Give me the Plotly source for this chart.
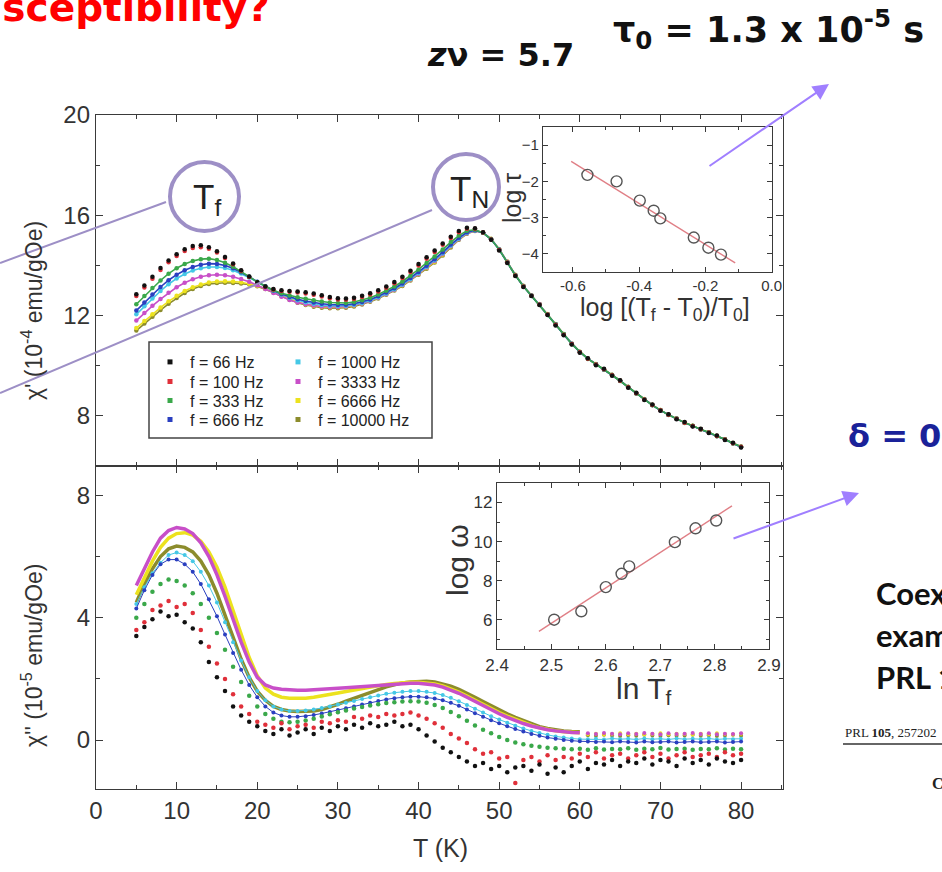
import plotly.graph_objects as go

W, H = 942, 872
def px(x): return x / W
def py(y): return 1 - y / H

# ---------------- data ----------------
T = list(range(5, 81))
freqs = ["66", "100", "333", "666", "1000", "3333", "6666", "10000"]
labels = ["f = 66 Hz", "f = 100 Hz", "f = 333 Hz", "f = 666 Hz",
          "f = 1000 Hz", "f = 3333 Hz", "f = 6666 Hz", "f = 10000 Hz"]
colors = ["#111111", "#e0303a", "#3aa84a", "#2a3fc0",
          "#45c8e6", "#c84fc8", "#ece21e", "#8c8c2c"]

chi1_66 = [12.85,13.20,13.55,13.90,14.20,14.45,14.65,14.77,14.80,14.73,
           14.57,14.34,14.08,13.81,13.56,13.33,13.16,13.06,13.01,12.98,
           12.96,12.93,12.88,12.81,12.74,12.69,12.68,12.71,12.79,12.89,
           13.01,13.16,13.34,13.55,13.79,14.06,14.33,14.60,14.87,15.14,
           15.37,15.50,15.48,15.32,15.02,14.60,14.10,13.58,13.14,12.78,
           12.42,12.02,11.60,11.22,10.85,10.52,10.30,10.02,9.88,9.60,
           9.42,9.12,8.92,8.63,8.45,8.20,8.06,7.86,7.75,7.58,
           7.49,7.32,7.22,7.04,6.93,6.74]
chi1_100 = [12.78,13.12,13.47,13.82,14.13,14.38,14.58,14.70,14.73,14.67,
            14.52,14.30,14.05,13.79,13.54,13.31,13.14,13.04,12.98,12.95,
            12.92,12.88,12.83,12.76,12.69,12.64,12.63,12.66,12.74,12.84,
            12.96,13.11,13.29,13.50,13.74,14.00,14.27,14.54,14.82,15.09,
            15.32,15.46,15.46,15.31,15.03,14.62,14.12,13.60,13.16,12.79,
            12.44,12.04,11.63,11.24,10.87,10.54,10.28,10.05,9.86,9.62,
            9.40,9.14,8.90,8.65,8.43,8.22,8.04,7.88,7.73,7.60,
            7.47,7.34,7.20,7.06,6.91,6.77]
chi1_333 = [12.45,12.78,13.10,13.40,13.67,13.89,14.06,14.18,14.25,14.27,
            14.22,14.11,13.95,13.76,13.55,13.34,13.16,13.01,12.89,12.80,
            12.73,12.67,12.61,12.56,12.52,12.50,12.50,12.54,12.61,12.71,
            12.84,12.99,13.16,13.36,13.59,13.84,14.10,14.36,14.64,14.93,
            15.19,15.38,15.42,15.30,15.04,14.63,14.13,13.61,13.17,12.79,
            12.43,12.05,11.64,11.26,10.86,10.55,10.27,10.06,9.85,9.63,
            9.39,9.15,8.89,8.66,8.42,8.23,8.03,7.89,7.72,7.61,
            7.46,7.35,7.19,7.07,6.90,6.78]
chi1_666 = [12.20,12.52,12.84,13.14,13.41,13.63,13.81,13.94,14.03,14.07,
            14.06,14.00,13.89,13.73,13.55,13.35,13.17,13.00,12.86,12.74,
            12.65,12.58,12.52,12.47,12.44,12.42,12.43,12.47,12.54,12.64,
            12.77,12.92,13.09,13.28,13.50,13.74,13.99,14.25,14.53,14.83,
            15.10,15.32,15.40,15.30,15.04,14.63,14.13,13.61,13.17,12.79,
            12.44,12.04,11.64,11.25,10.87,10.55,10.28,10.06,9.85,9.63,
            9.40,9.15,8.90,8.66,8.43,8.22,8.04,7.88,7.73,7.60,
            7.47,7.34,7.20,7.06,6.91,6.76]
chi1_1000 = [12.05,12.37,12.68,12.98,13.25,13.48,13.66,13.80,13.89,13.94,
             13.94,13.90,13.81,13.68,13.52,13.34,13.16,12.99,12.84,12.71,
             12.61,12.53,12.47,12.42,12.39,12.38,12.39,12.43,12.50,12.60,
             12.73,12.88,13.05,13.24,13.46,13.70,13.95,14.21,14.49,14.79,
             15.07,15.30,15.39,15.30,15.05,14.64,14.14,13.62,13.18,12.80,
             12.45,12.05,11.65,11.25,10.88,10.55,10.28,10.06,9.85,9.63,
             9.40,9.15,8.90,8.66,8.43,8.22,8.04,7.88,7.73,7.60,
             7.47,7.34,7.20,7.06,6.91,6.76]
chi1_3333 = [11.80,12.10,12.39,12.66,12.91,13.13,13.31,13.45,13.55,13.61,
             13.63,13.61,13.55,13.46,13.35,13.21,13.06,12.90,12.75,12.62,
             12.52,12.45,12.40,12.36,12.34,12.34,12.36,12.41,12.48,12.58,
             12.71,12.86,13.03,13.22,13.44,13.67,13.92,14.18,14.46,14.77,
             15.05,15.28,15.38,15.30,15.05,14.65,14.15,13.62,13.18,12.80,
             12.45,12.05,11.65,11.25,10.88,10.55,10.28,10.06,9.85,9.63,
             9.40,9.15,8.90,8.66,8.43,8.22,8.04,7.88,7.73,7.60,
             7.47,7.34,7.20,7.06,6.91,6.76]
chi1_6666 = [11.50,11.78,12.05,12.32,12.57,12.79,12.98,13.13,13.24,13.32,
             13.36,13.37,13.36,13.33,13.27,13.19,13.08,12.94,12.80,12.66,
             12.54,12.45,12.39,12.35,12.33,12.33,12.35,12.40,12.48,12.58,
             12.71,12.86,13.03,13.21,13.43,13.66,13.90,14.15,14.44,14.76,
             15.05,15.29,15.39,15.31,15.06,14.66,14.16,13.63,13.19,12.81,
             12.46,12.06,11.66,11.26,10.89,10.56,10.29,10.07,9.86,9.64,
             9.41,9.16,8.91,8.67,8.44,8.23,8.05,7.89,7.74,7.61,
             7.48,7.35,7.21,7.07,6.92,6.77]
chi1_10000 = [11.40,11.68,11.95,12.22,12.47,12.70,12.90,13.06,13.18,13.26,
              13.30,13.31,13.30,13.28,13.24,13.17,13.06,12.92,12.77,12.63,
              12.51,12.42,12.35,12.31,12.29,12.29,12.31,12.36,12.44,12.55,
              12.68,12.83,13.00,13.18,13.40,13.63,13.87,14.12,14.40,14.72,
              15.02,15.26,15.37,15.30,15.05,14.65,14.15,13.62,13.18,12.80,
              12.45,12.05,11.65,11.25,10.88,10.55,10.28,10.06,9.85,9.63,
              9.40,9.15,8.90,8.66,8.43,8.22,8.04,7.88,7.73,7.60,
              7.47,7.34,7.20,7.06,6.91,6.76]

chi2_66 = [3.40,3.70,3.95,4.20,4.05,4.10,3.85,3.65,3.20,2.55,
           2.05,1.60,1.10,0.80,0.60,0.45,0.30,0.20,0.35,0.15,
           0.25,0.35,0.20,0.40,0.30,0.45,0.35,0.50,0.40,0.55,
           0.45,0.50,0.60,0.45,0.50,0.35,0.15,-0.05,-0.25,-0.40,
           -0.55,-0.70,-0.85,-0.75,-0.95,-0.85,-1.05,-0.90,-0.85,-1.00,
           -0.80,-1.10,-0.90,-1.05,-0.85,-0.70,-0.95,-0.75,-0.80,-0.65,
           -0.85,-0.70,-0.75,-0.60,-0.80,-0.65,-0.70,-0.85,-0.60,-0.75,
           -0.65,-0.80,-0.60,-0.70,-0.75,-0.65]
chi2_100 = [3.60,3.85,4.25,4.40,4.55,4.35,4.45,4.15,3.60,3.05,
            2.50,2.00,1.50,1.10,0.85,0.60,0.50,0.40,0.55,0.35,
            0.45,0.50,0.40,0.60,0.55,0.65,0.60,0.75,0.70,0.80,
            0.75,0.85,0.80,0.85,0.90,0.80,0.70,0.55,0.40,0.20,
            0.05,-0.10,-0.30,-0.45,-0.40,-0.60,-0.55,-1.40,-0.65,-0.55,
            -0.70,-0.50,-0.65,-0.55,-0.60,-0.45,-0.55,-0.40,-0.60,-0.50,
            -0.45,-0.60,-0.50,-0.40,-0.55,-0.45,-0.60,-0.50,-0.40,-0.55,
            -0.50,-0.45,-0.55,-0.40,-0.50,-0.45]
chi2_333 = [4.00,4.45,4.85,5.10,5.25,5.20,5.05,4.80,4.45,4.00,
            3.50,2.95,2.40,1.90,1.45,1.10,0.85,0.70,0.60,0.58,
            0.60,0.64,0.70,0.77,0.84,0.91,0.97,1.03,1.08,1.13,
            1.17,1.21,1.24,1.26,1.27,1.26,1.22,1.15,1.05,0.92,
            0.78,0.63,0.48,0.34,0.22,0.10,0.00,-0.08,-0.14,-0.19,
            -0.22,-0.25,-0.27,-0.28,-0.30,-0.28,-0.32,-0.27,-0.31,-0.29,
            -0.30,-0.27,-0.32,-0.28,-0.30,-0.26,-0.31,-0.29,-0.28,-0.32,
            -0.29,-0.30,-0.27,-0.31,-0.28,-0.30]
chi2_666 = [4.30,4.90,5.40,5.75,5.90,5.90,5.75,5.50,5.10,4.60,
            4.05,3.45,2.85,2.30,1.80,1.40,1.10,0.90,0.80,0.76,
            0.76,0.78,0.82,0.87,0.92,0.98,1.04,1.10,1.16,1.22,
            1.28,1.33,1.37,1.40,1.42,1.42,1.40,1.36,1.30,1.22,
            1.12,1.00,0.88,0.76,0.65,0.55,0.45,0.36,0.28,0.20,
            0.14,0.08,0.04,0.00,-0.02,-0.04,-0.05,-0.06,-0.05,-0.07,
            -0.05,-0.06,-0.08,-0.05,-0.07,-0.06,-0.05,-0.08,-0.06,-0.05,
            -0.07,-0.06,-0.05,-0.08,-0.06,-0.05]
chi2_1000 = [4.45,5.00,5.45,5.80,6.05,6.13,6.05,5.85,5.50,5.05,
             4.50,3.85,3.20,2.60,2.05,1.60,1.30,1.10,1.00,0.95,
             0.95,0.97,1.00,1.05,1.10,1.16,1.22,1.28,1.34,1.40,
             1.46,1.51,1.55,1.58,1.60,1.60,1.58,1.54,1.47,1.38,
             1.27,1.15,1.02,0.90,0.78,0.67,0.57,0.47,0.38,0.30,
             0.23,0.17,0.12,0.08,0.05,0.03,0.03,0.04,0.02,0.05,
             0.03,0.04,0.02,0.05,0.03,0.04,0.02,0.05,0.03,0.04,
             0.03,0.05,0.02,0.04,0.03,0.04]
chi2_3333 = [5.05,5.60,6.15,6.60,6.85,6.95,6.90,6.75,6.45,6.00,
             5.40,4.70,3.95,3.20,2.55,2.05,1.80,1.70,1.66,1.64,
             1.63,1.63,1.64,1.65,1.67,1.69,1.71,1.73,1.75,1.77,
             1.79,1.81,1.83,1.85,1.86,1.86,1.84,1.80,1.73,1.64,
             1.53,1.40,1.26,1.12,0.99,0.86,0.74,0.63,0.54,0.46,
             0.39,0.34,0.30,0.27,0.25,0.24,0.22,0.20,0.23,0.21,
             0.19,0.22,0.20,0.23,0.21,0.19,0.22,0.20,0.21,0.23,
             0.20,0.22,0.19,0.21,0.20,0.22]
chi2_6666 = [4.75,5.30,5.85,6.30,6.60,6.75,6.78,6.70,6.50,6.15,
             5.65,5.00,4.25,3.45,2.70,2.10,1.70,1.50,1.40,1.37,
             1.36,1.37,1.40,1.44,1.49,1.54,1.59,1.64,1.69,1.74,
             1.78,1.82,1.85,1.88,1.89,1.89,1.87,1.83,1.77,1.68,
             1.57,1.44,1.30,1.16,1.02,0.90,0.78,0.67,0.57,0.48,
             0.40,0.34,0.30,0.27,0.25,0.24,0.19,0.21,0.18,0.20,
             0.22,0.19,0.21,0.18,0.20,0.22,0.19,0.21,0.20,0.18,
             0.21,0.19,0.22,0.20,0.18,0.21]
chi2_10000 = [4.50,5.10,5.60,6.00,6.25,6.34,6.30,6.15,5.85,5.40,
              4.80,4.10,3.35,2.65,2.05,1.60,1.30,1.10,1.00,0.95,
              0.93,0.93,0.95,1.00,1.08,1.17,1.27,1.37,1.47,1.57,
              1.66,1.74,1.81,1.87,1.90,1.92,1.92,1.90,1.84,1.76,
              1.66,1.54,1.40,1.26,1.12,0.99,0.86,0.74,0.63,0.53,
              0.44,0.38,0.33,0.30,0.28,0.27,0.16,0.14,0.17,0.15,
              0.13,0.16,0.14,0.17,0.15,0.13,0.16,0.14,0.15,0.17,
              0.14,0.16,0.13,0.15,0.17,0.14]

chi1 = [chi1_66, chi1_100, chi1_333, chi1_666, chi1_1000, chi1_3333, chi1_6666, chi1_10000]
chi2 = [chi2_66, chi2_100, chi2_333, chi2_666, chi2_1000, chi2_3333, chi2_6666, chi2_10000]

# insets
tau_x = [-0.556, -0.468, -0.398, -0.356, -0.336, -0.235, -0.191, -0.153]
tau_y = [-1.82, -2.00, -2.53, -2.81, -3.02, -3.55, -3.83, -4.02]
tau_fit_x = [-0.605, -0.11]
tau_fit_y = [-1.45, -4.25]
om_x = [2.505, 2.555, 2.600, 2.629, 2.643, 2.727, 2.765, 2.803]
om_y = [6.00, 6.43, 7.67, 8.35, 8.73, 9.97, 10.68, 11.08]
om_fit_x = [2.477, 2.832]
om_fit_y = [5.40, 11.83]

FONT = "Liberation Sans, Arial, sans-serif"
AX = "#3a3a3a"

fig = go.Figure()

# upper panel (chi'): high frequencies as dotted lines, low frequencies as dots on top
for i in reversed(range(8)):
    if freqs[i] in ("66", "100"):
        fig.add_trace(go.Scatter(
            x=T, y=chi1[i], xaxis="x2", yaxis="y2", mode="markers",
            marker=dict(color=colors[i], size=4.5),
            showlegend=False, hoverinfo="skip"))
    else:
        fig.add_trace(go.Scatter(
            x=T, y=chi1[i], xaxis="x2", yaxis="y2", mode="lines+markers",
            line=dict(color=colors[i], width=1.6),
            marker=dict(color=colors[i], size=4.5),
            showlegend=False, hoverinfo="skip"))

# lower panel (chi'')
solid = {"3333", "6666", "10000"}
for i in reversed(range(8)):
    f = freqs[i]
    if f in solid:
        fig.add_trace(go.Scatter(
            x=T[:56], y=chi2[i][:56], xaxis="x", yaxis="y", mode="lines",
            line=dict(color=colors[i], width=3.5), showlegend=False, hoverinfo="skip"))
        fig.add_trace(go.Scatter(
            x=T[56:], y=chi2[i][56:], xaxis="x", yaxis="y", mode="markers",
            marker=dict(color=colors[i], size=4), showlegend=False, hoverinfo="skip"))
    elif f in ("666", "1000"):
        fig.add_trace(go.Scatter(
            x=T, y=chi2[i], xaxis="x", yaxis="y", mode="lines+markers",
            line=dict(color=colors[i], width=1), marker=dict(color=colors[i], size=4),
            showlegend=False, hoverinfo="skip"))
    else:
        fig.add_trace(go.Scatter(
            x=T, y=chi2[i], xaxis="x", yaxis="y", mode="markers",
            marker=dict(color=colors[i], size=4.5), showlegend=False, hoverinfo="skip"))

# legend entries: one small legend per entry (2 columns x 4 rows)
leg_ids = ["legend", "legend2", "legend3", "legend4", "legend5", "legend6", "legend7", "legend8"]
for i in range(8):
    fig.add_trace(go.Scatter(
        x=[None], y=[None], xaxis="x", yaxis="y", mode="markers",
        marker=dict(color=colors[i], size=5, symbol="square"),
        name=labels[i], legend=leg_ids[i]))

# insets
fig.add_trace(go.Scatter(x=tau_fit_x, y=tau_fit_y, xaxis="x3", yaxis="y3", mode="lines",
                         line=dict(color="#e07f86", width=1.4), showlegend=False))
fig.add_trace(go.Scatter(x=tau_x, y=tau_y, xaxis="x3", yaxis="y3", mode="markers",
                         marker=dict(symbol="circle-open", size=11, color="#555",
                                     line=dict(width=1.4)), showlegend=False))
fig.add_trace(go.Scatter(x=om_fit_x, y=om_fit_y, xaxis="x4", yaxis="y4", mode="lines",
                         line=dict(color="#e07f86", width=1.4), showlegend=False))
fig.add_trace(go.Scatter(x=om_x, y=om_y, xaxis="x4", yaxis="y4", mode="markers",
                         marker=dict(symbol="circle-open", size=11, color="#555",
                                     line=dict(width=1.4)), showlegend=False))

def ax(**kw):
    d = dict(showline=True, linecolor=AX, linewidth=1.3, mirror="ticks", automargin=False,
             ticks="inside", tickcolor=AX, ticklen=7, tickwidth=1.2,
             showgrid=False, zeroline=False, tickfont=dict(family=FONT, size=24, color="#333"))
    d.update(kw)
    return d

main_x = [px(96), px(783)]
layout = dict(
    width=W, height=H, margin=dict(l=0, r=0, t=0, b=0, autoexpand=False),
    paper_bgcolor="white", plot_bgcolor="white",
    font=dict(family=FONT, color="#222"),
    xaxis=ax(domain=main_x, anchor="y", range=[0, 85.2], tickvals=list(range(0, 81, 10)),
             minor=dict(ticks="inside", dtick=5, tick0=0, ticklen=4, tickcolor=AX)),
    yaxis=ax(domain=[py(789), py(466)], anchor="x", range=[-1.6, 8.96], tickvals=[0, 4, 8],
             minor=dict(ticks="inside", dtick=2, tick0=0, ticklen=4, tickcolor=AX)),
    xaxis2=ax(domain=main_x, anchor="y2", matches="x", range=[0, 85.2],
              tickvals=list(range(0, 81, 10)), showticklabels=False,
              minor=dict(ticks="inside", dtick=5, tick0=0, ticklen=4, tickcolor=AX)),
    yaxis2=ax(domain=[py(466), py(115)], anchor="x2", range=[6, 20], tickvals=[8, 12, 16, 20],
              minor=dict(ticks="inside", dtick=2, tick0=0, ticklen=4, tickcolor=AX)),
    xaxis3=ax(domain=[px(543), px(772)], anchor="y3", range=[-0.69, 0.001],
              tickvals=[-0.6, -0.4, -0.2, 0.0], ticktext=["-0.6", "-0.4", "-0.2", "0.0"],
              ticklen=5, tickfont=dict(family=FONT, size=15, color="#333"),
              minor=dict(ticks="inside", dtick=0.1, tick0=0, ticklen=3, tickcolor=AX)),
    yaxis3=ax(domain=[py(272), py(127)], anchor="x3", range=[-4.5, -0.5],
              tickvals=[-4, -3, -2, -1], ticklen=5,
              tickfont=dict(family=FONT, size=15, color="#333"),
              minor=dict(ticks="inside", dtick=0.5, tick0=0, ticklen=3, tickcolor=AX)),
    xaxis4=ax(domain=[px(497), px(769)], anchor="y4", range=[2.3999, 2.9001],
              tickvals=[2.4, 2.5, 2.6, 2.7, 2.8, 2.9], ticklen=5,
              tickfont=dict(family=FONT, size=17, color="#333"),
              minor=dict(ticks="inside", dtick=0.05, tick0=0, ticklen=3, tickcolor=AX)),
    yaxis4=ax(domain=[py(649), py(483)], anchor="x4", range=[4.5, 13],
              tickvals=[6, 8, 10, 12], ticklen=5,
              tickfont=dict(family=FONT, size=17, color="#333"),
              minor=dict(ticks="inside", dtick=1, tick0=0, ticklen=3, tickcolor=AX)),
)
rows = [362, 381.5, 400.5, 419.5]
for i, lid in enumerate(leg_ids):
    col_x = 150 if i < 4 else 278
    layout[lid] = dict(x=px(col_x), y=py(rows[i % 4]), xanchor="left", yanchor="middle",
                       bgcolor="rgba(0,0,0,0)", borderwidth=0,
                       font=dict(family=FONT, size=16, color="#222"), itemwidth=30)
fig.update_layout(**layout)

LAV = "#9d8fc6"
ARW = "#a07fff"
shapes = [
    dict(type="rect", xref="paper", yref="paper", x0=px(149), x1=px(432), y0=py(438), y1=py(342),
         line=dict(color="#444", width=1.5)),
    dict(type="line", xref="paper", yref="paper", x0=px(0), y0=py(263), x1=px(166), y1=py(202),
         line=dict(color=LAV, width=2)),
    dict(type="line", xref="paper", yref="paper", x0=px(0), y0=py(393), x1=px(432), y1=py(210),
         line=dict(color=LAV, width=2)),
    dict(type="circle", xref="paper", yref="paper", x0=px(170), x1=px(239), y0=py(231), y1=py(162),
         line=dict(color=LAV, width=4)),
    dict(type="circle", xref="paper", yref="paper", x0=px(433), x1=px(499), y0=py(220), y1=py(154),
         line=dict(color=LAV, width=4)),
    dict(type="line", xref="paper", yref="paper", x0=px(843), y0=py(744), x1=px(942), y1=py(744),
         line=dict(color="#333", width=1.5)),
]
fig.update_layout(shapes=shapes)

def ann(x, y, text, size, color="#222", family=FONT, xanchor="center", yanchor="middle", angle=0):
    return dict(x=px(x), y=py(y), xref="paper", yref="paper", text=text, showarrow=False,
                xanchor=xanchor, yanchor=yanchor, textangle=angle,
                font=dict(size=size, color=color, family=family))

BOLD = "DejaVu Sans, Verdana, sans-serif"
SERIF = "Liberation Serif, Times New Roman, serif"
annotations = [
    ann(32, 311, "χ' (10<sup>-4</sup> emu/gOe)", 23, "#333", angle=-90),
    ann(32, 656, "χ'' (10<sup>-5</sup> emu/gOe)", 23, "#333", angle=-90),
    ann(440, 848, "T (K)", 25, "#333"),
    ann(512, 198, "log τ", 25, "#333", angle=-90),
    ann(665, 309, "log [(T<sub>f</sub> - T<sub>0</sub>)/T<sub>0</sub>]", 25, "#333"),
    ann(457, 560, "log ω", 30, "#333", angle=-90),
    ann(643, 690, "ln T<sub>f</sub>", 30, "#333"),
    ann(207, 199, "T<sub>f</sub>", 35, "#222"),
    ann(469, 191, "T<sub>N</sub>", 35, "#222"),
    ann(272, 32, "<b>AC susceptibility?</b>", 39, "#ff0000", BOLD, xanchor="right", yanchor="bottom"),
    ann(500, 55, "<b><i>z</i>ν = 5.7</b>", 32, "#111", BOLD),
    ann(768, 30, "<b>τ<sub>0</sub> = 1.3 x 10<sup>-5</sup> s</b>", 35, "#111", BOLD),
    ann(846, 436, "<b>δ = 0.0</b>", 32, "#1a2299", BOLD, xanchor="left"),
    ann(874, 593, "<b>Coexistence of</b>", 31, "#111", "Lato, sans-serif", xanchor="left"),
    ann(874, 635, "<b>example</b>", 31, "#111", "Lato, sans-serif", xanchor="left"),
    ann(874, 677, "<b>PRL 105</b>", 31, "#111", "Lato, sans-serif", xanchor="left"),
    ann(843, 732, "PRL <b>105</b>, 257202", 13, "#222", SERIF, xanchor="left"),
    ann(930, 783, "<b>C</b>", 16, "#222", SERIF, xanchor="left"),
]
# arrows
annotations.append(dict(x=px(829), y=py(84), xref="paper", yref="paper", ax=-121, ay=83,
                        axref="pixel", ayref="pixel", text="", showarrow=True,
                        arrowhead=2, arrowsize=1.6, arrowwidth=2, arrowcolor=ARW))
annotations.append(dict(x=px(859), y=py(493), xref="paper", yref="paper", ax=-127, ay=46,
                        axref="pixel", ayref="pixel", text="", showarrow=True,
                        arrowhead=2, arrowsize=1.6, arrowwidth=2, arrowcolor=ARW))
fig.update_layout(annotations=annotations)

fig.write_html("out.html")
